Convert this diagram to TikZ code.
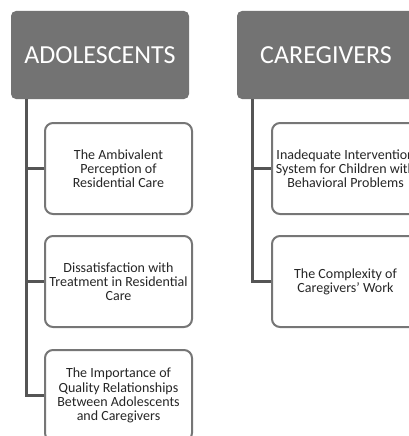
\documentclass[tikz,border=0pt]{standalone}
\usepackage{fontspec}
\setmainfont{Carlito}
\definecolor{headgray}{RGB}{115,115,115}
\definecolor{boxgray}{RGB}{118,118,118}
\definecolor{linegray}{RGB}{85,85,85}
\begin{document}
\begin{tikzpicture}[x=1pt,y=-1pt,
  header/.style={fill=headgray, rounded corners=5pt, minimum width=178pt,
    minimum height=88pt, text=white, inner sep=0pt,
    font=\fontsize{26}{31}\selectfont},
  topic/.style={draw=boxgray, line width=2pt, fill=white, rounded corners=8pt,
    minimum width=147pt, minimum height=91pt, align=center, inner sep=0pt,
    text=black!85, font=\fontsize{14}{14.3}\selectfont},
  link/.style={draw=linegray, line width=3pt}]
\path[use as bounding box] (0,0) rectangle (409,436);
\clip (0,0) rectangle (409,436);

% column headers
\node[header] (adol) at (100,55) {ADOLESCENTS};
\node[header] (care) at (326,55) {CAREGIVERS};

% adolescent themes
\node[topic] (a1) at (118.5,168.5) {The Ambivalent\\Perception of\\Residential Care};
\node[topic] (a2) at (118.5,281.5) {Dissatisfaction with\\Treatment in Residential\\Care};
\node[topic] (a3) at (118.5,395.5) {The Importance of\\Quality Relationships\\Between Adolescents\\and Caregivers};

% caregiver themes
\node[topic] (c1) at (345.5,168.5) {Inadequate Intervention\\System for Children with\\Behavioral Problems};
\node[topic] (c2) at (345.5,281.5) {The Complexity of\\Caregivers' Work};

% trunk positions
\coordinate (at) at ([xshift=16pt]adol.south west);
\coordinate (ct) at ([xshift=16pt]care.south west);

% connectors
\draw[link] (at) |- (a3.west);
\draw[link] (at |- a1.west) -- (a1.west);
\draw[link] (at |- a2.west) -- (a2.west);
\draw[link] (ct) |- (c2.west);
\draw[link] (ct |- c1.west) -- (c1.west);
\end{tikzpicture}
\end{document}
